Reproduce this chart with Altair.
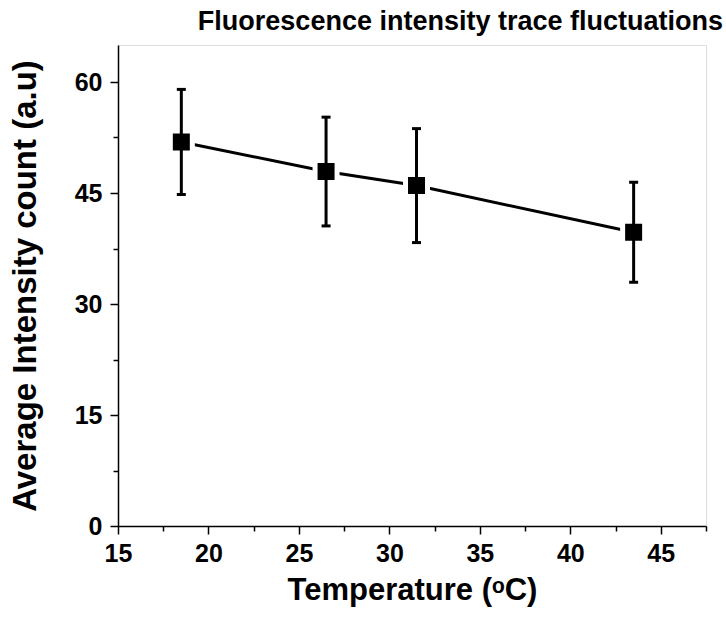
import altair as alt
import pandas as pd

temperature = [18.5, 26.5, 31.5, 43.5]
intensity = [51.9, 47.9, 46.0, 39.7]
error = [7.1, 7.35, 7.7, 6.75]

x_ticks = [15, 17.5, 20, 22.5, 25, 27.5, 30, 32.5, 35, 37.5, 40, 42.5, 45, 47.5]
y_ticks = [0, 7.5, 15, 22.5, 30, 37.5, 45, 52.5, 60]

df = pd.DataFrame({"t": temperature, "v": intensity, "e": error})
df["lo"] = df["v"] - df["e"]
df["hi"] = df["v"] + df["e"]

FONT = "Liberation Sans"

xs = alt.Scale(domain=[15, 47.5], nice=False, zero=False)
ys = alt.Scale(domain=[0, 65], nice=False)

x_axis = alt.Axis(
    values=x_ticks, title="Temperature (ᵒC)", grid=False,
    labelExpr="datum.value % 5 === 0 ? datum.label : ''",
    tickSize={"condition": {"test": "datum.value % 5 === 0", "value": 8}, "value": 5},
    tickWidth=1.5, tickColor="black", domainColor="black", domainWidth=1.5,
    labelFont=FONT, labelFontSize=25, labelFontWeight="bold", labelColor="black",
    labelPadding=7, labelOverlap=False, labelFlush=False,
    titleFont=FONT, titleFontSize=31, titleFontWeight="bold", titleColor="black",
    titlePadding=9,
)
y_axis = alt.Axis(
    values=y_ticks, title="Average Intensity count (a.u)", grid=False,
    labelExpr="datum.value % 15 === 0 ? datum.label : ''",
    tickSize={"condition": {"test": "datum.value % 15 === 0", "value": 8}, "value": 5},
    tickWidth=1.5, tickColor="black", domainColor="black", domainWidth=1.5,
    labelFont=FONT, labelFontSize=25, labelFontWeight="bold", labelColor="black",
    labelPadding=8, labelOverlap=False, labelFlush=False,
    titleFont=FONT, titleFontSize=33, titleFontWeight="bold", titleColor="black",
    titlePadding=32,
)

base = alt.Chart(df)

line = base.mark_line(color="black", strokeWidth=3).encode(
    x=alt.X("t:Q", scale=xs, axis=x_axis),
    y=alt.Y("v:Q", scale=ys, axis=y_axis),
)
points = base.mark_point(shape="square", filled=True, fill="black", size=484,
                         stroke="white", strokeWidth=5, opacity=1).encode(
    x=alt.X("t:Q", scale=xs), y=alt.Y("v:Q", scale=ys)
)
bars = base.mark_rule(color="black", strokeWidth=3).encode(
    x=alt.X("t:Q", scale=xs), y=alt.Y("lo:Q", scale=ys), y2="hi:Q"
)
cap_lo = base.mark_tick(color="black", orient="horizontal", size=9, thickness=3, opacity=1).encode(
    x=alt.X("t:Q", scale=xs), y=alt.Y("lo:Q", scale=ys)
)
cap_hi = base.mark_tick(color="black", orient="horizontal", size=9, thickness=3, opacity=1).encode(
    x=alt.X("t:Q", scale=xs), y=alt.Y("hi:Q", scale=ys)
)

chart = alt.layer(line, points, bars, cap_lo, cap_hi).properties(
    width=588, height=481,
    autosize="none",
    padding={"left": 118, "top": 45, "right": 20, "bottom": 96},
    title=alt.TitleParams(
        "Fluorescence intensity trace fluctuations",
        anchor="end", frame="group", dx=17, offset=9,
        font=FONT, fontSize=27, fontWeight="bold", color="black",
    ),
).configure_view(stroke=None).configure(background="white")

chart.save("out.html", embed_options={"renderer": "svg", "actions": False})
